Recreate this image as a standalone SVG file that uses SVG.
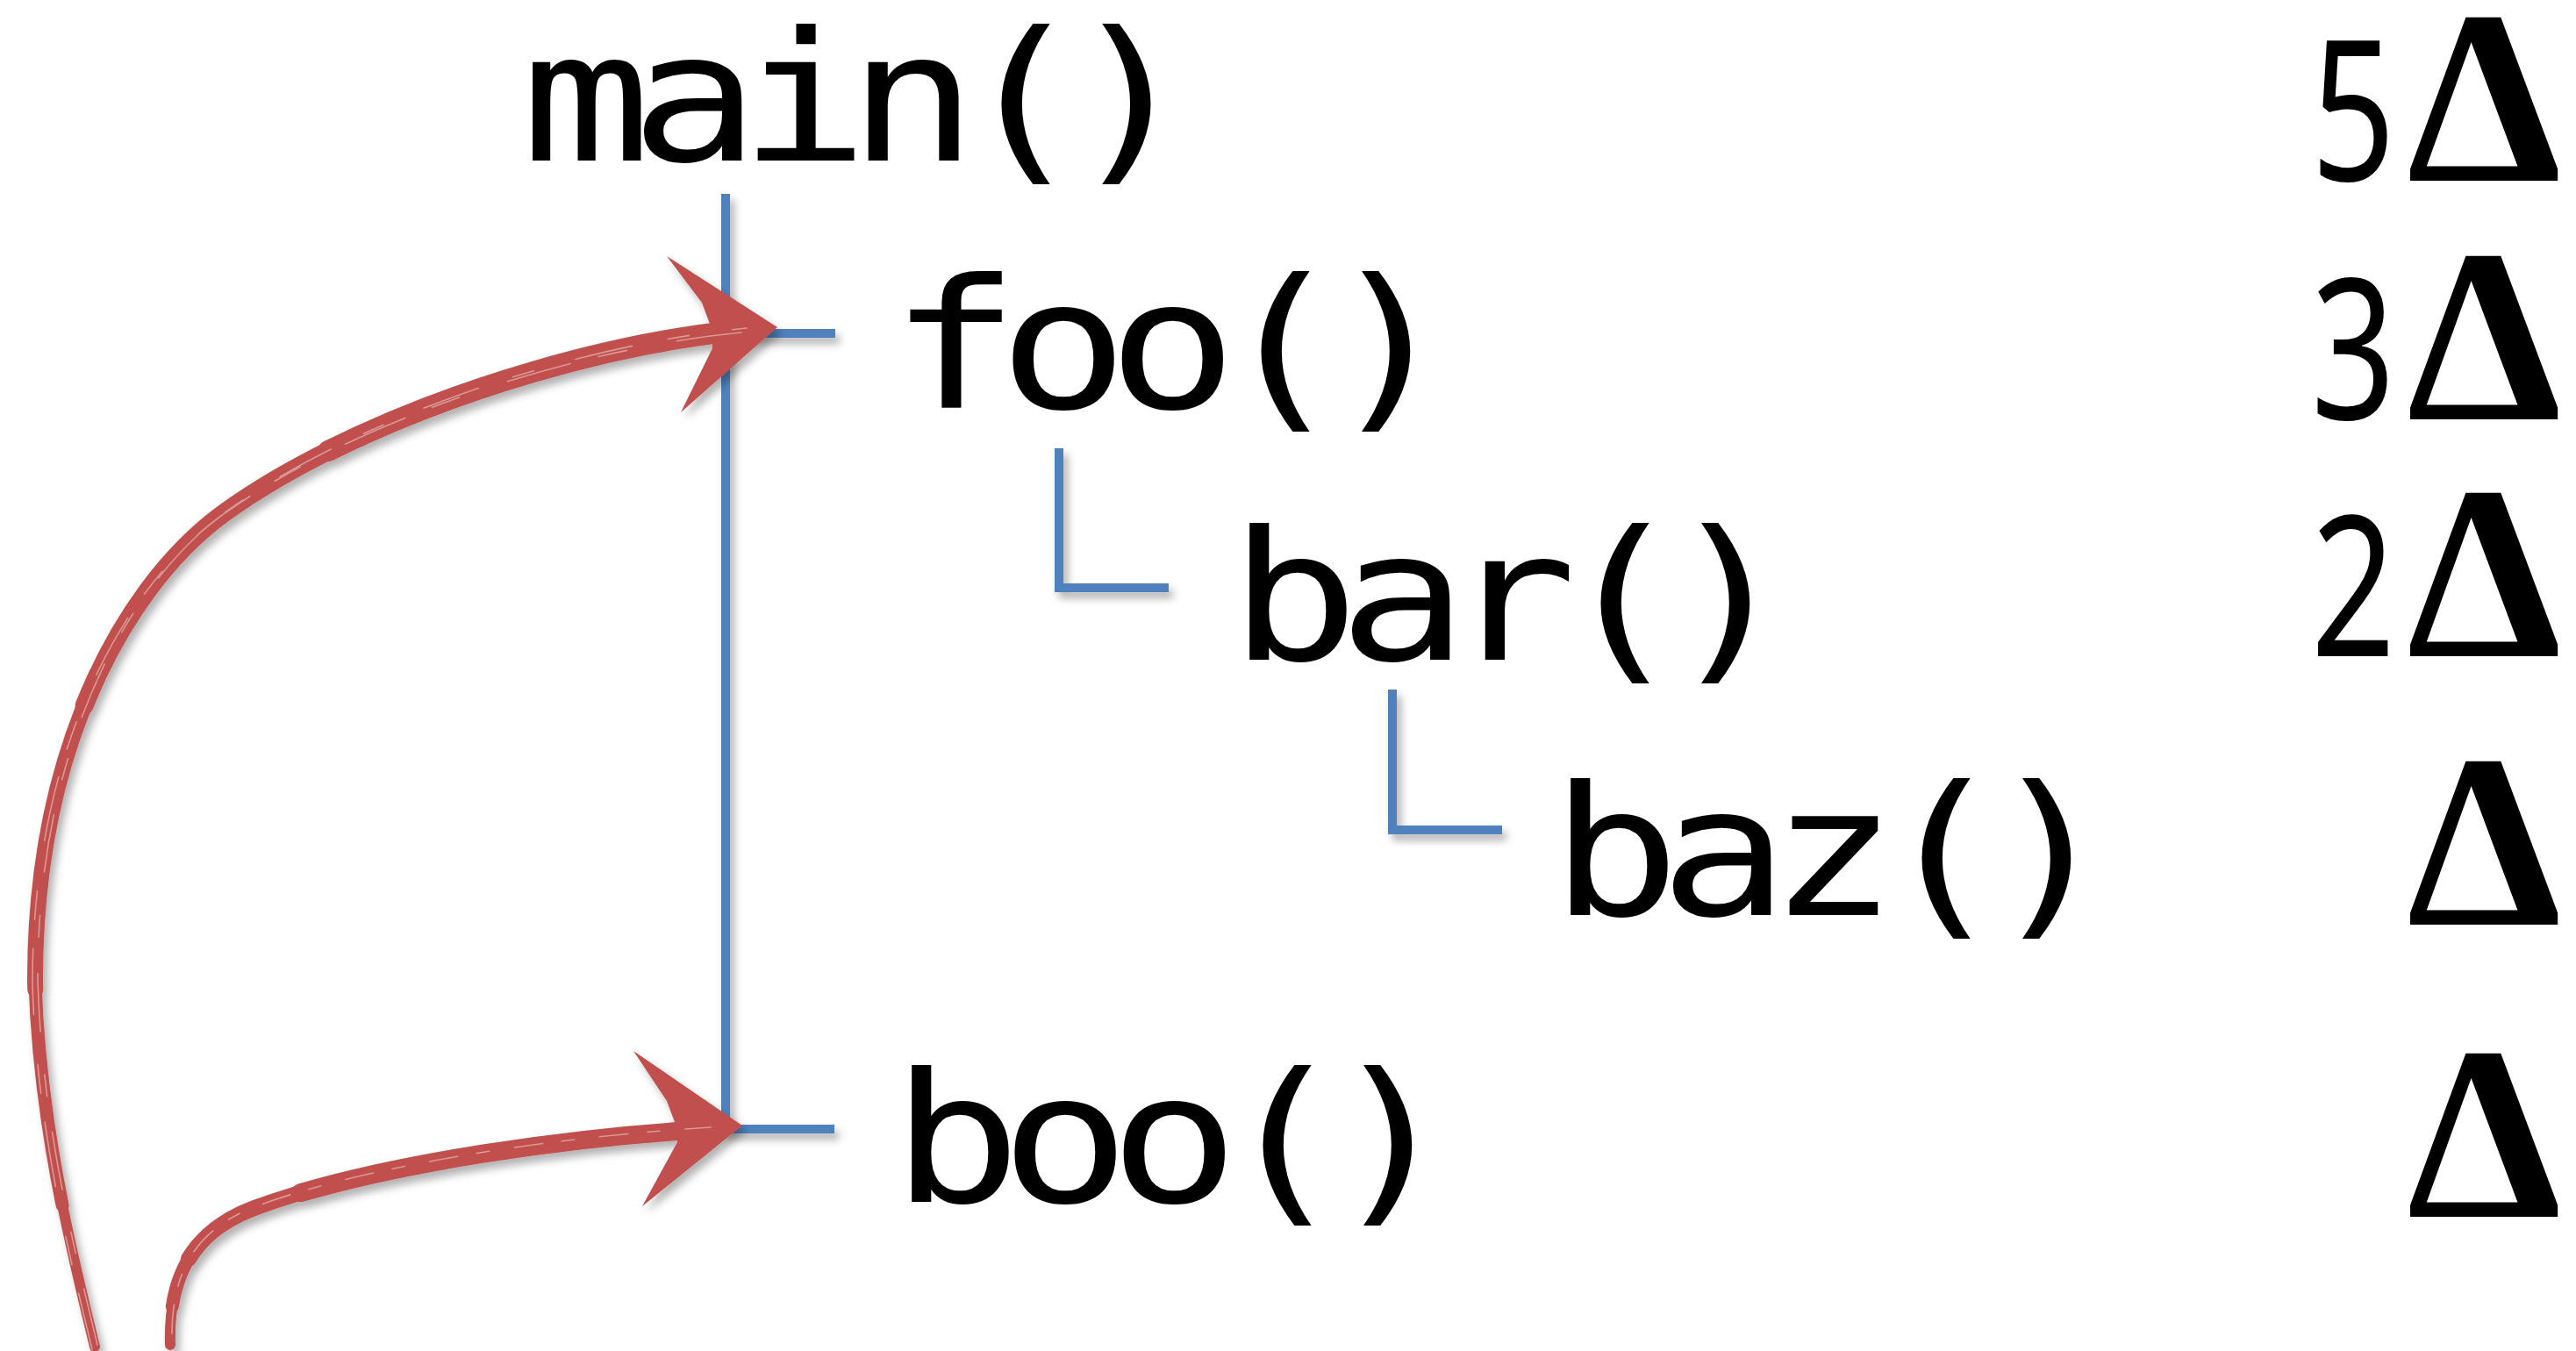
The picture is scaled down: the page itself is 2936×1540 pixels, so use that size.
<svg xmlns="http://www.w3.org/2000/svg" xmlns:xlink="http://www.w3.org/1999/xlink" width="2936" height="1540" viewBox="0 0 2936 1540">
<defs>
<filter id="sh" filterUnits="userSpaceOnUse" x="0" y="0" width="2936" height="1540">
<feDropShadow dx="5" dy="7" stdDeviation="5" flood-color="#000" flood-opacity="0.3"/>
</filter>
<path id="a1" pathLength="1000" d="M108,1535 C80,1420 45,1280 40,1120 C39,850 145,665 255,585 C400,480 650,395 848,376"/>
<path id="a2" pathLength="1000" d="M194,1533 C192,1460 215,1405 290,1377 C400,1336 600,1300 808,1287"/>
<style>
.code{font-family:"DejaVu Sans Mono",monospace;font-size:205px;fill:#000;letter-spacing:-20px}
.num{font-family:"Noto Sans","Open Sans",sans-serif;font-size:224px;fill:#000}
.delta{font-family:"Liberation Serif",serif;font-size:282px;font-weight:bold;fill:#000}
.tree{stroke:#4F81BD;stroke-width:10;fill:none;stroke-linecap:butt}
.brush{stroke:#C0504D;fill:none;stroke-linecap:round;stroke-linejoin:round}
.part{stroke-dasharray:1000 1000}
.streak{stroke:#DA9996;fill:none;stroke-width:1.6;stroke-linecap:round}
.head{fill:#C0504D}
</style>
</defs>
<rect width="2936" height="1540" fill="#fff"/>
<g id="connectors">
<g filter="url(#sh)">
<path class="tree" d="M827,221 V1292 M822,380 H952 M822,1287 H951"/>
<path class="tree" d="M1207,511 V670 H1332"/>
<path class="tree" d="M1587,786 V946 H1712"/>
</g>
<g id="arrow-foo" filter="url(#sh)">
<use xlink:href="#a1" href="#a1" class="brush" stroke-width="12"/>
<use xlink:href="#a1" href="#a1" class="brush part" stroke-width="15" stroke-dashoffset="1900"/>
<use xlink:href="#a1" href="#a1" class="brush part" stroke-width="18" stroke-dashoffset="1750"/>
<use xlink:href="#a1" href="#a1" class="brush part" stroke-width="21" stroke-dashoffset="1550"/>
<use xlink:href="#a1" href="#a1" class="brush part" stroke-width="24" stroke-dashoffset="1300"/>
<polygon class="head" points="760,292 886,373 776,470 812,397 812,377 800,345"/>
</g>
<g id="arrow-boo" filter="url(#sh)">
<use xlink:href="#a2" href="#a2" class="brush" stroke-width="12"/>
<use xlink:href="#a2" href="#a2" class="brush part" stroke-width="15" stroke-dashoffset="1940"/>
<use xlink:href="#a2" href="#a2" class="brush part" stroke-width="18" stroke-dashoffset="1860"/>
<use xlink:href="#a2" href="#a2" class="brush part" stroke-width="21" stroke-dashoffset="1650"/>
<polygon class="head" points="722,1198 846,1283 732,1375 772,1302 772,1287 760,1255"/>
</g>
<use xlink:href="#a1" href="#a1" class="streak" stroke-dasharray="40 25 15 30" transform="translate(3,-2)"/>
<use xlink:href="#a1" href="#a1" class="streak" stroke-dasharray="20 35 45 20" stroke-dashoffset="-300" transform="translate(-3,3)"/>
<use xlink:href="#a2" href="#a2" class="streak" stroke-dasharray="45 30 20 40" stroke-dashoffset="-150" transform="translate(2,-2)"/>
</g>
<g id="node-main"><text class="code" transform="translate(594,183) scale(1.2,1)">main()</text></g>
<g id="node-foo"><text class="code" transform="translate(1014,465) scale(1.2,1)">foo()</text></g>
<g id="node-bar"><text class="code" transform="translate(1401,752) scale(1.2,1)">bar()</text></g>
<g id="node-baz"><text class="code" transform="translate(1767,1043) scale(1.2,1)">baz()</text></g>
<g id="node-boo"><text class="code" transform="translate(1016,1370) scale(1.2,1)">boo()</text></g>
<g id="cost-main"><text class="num" transform="translate(2634,206) scale(0.75,1)">5</text><text class="delta" x="2920" y="206" text-anchor="end">Δ</text></g>
<g id="cost-foo"><text class="num" transform="translate(2634,478) scale(0.75,1)">3</text><text class="delta" x="2920" y="478" text-anchor="end">Δ</text></g>
<g id="cost-bar"><text class="num" transform="translate(2634,748) scale(0.75,1)">2</text><text class="delta" x="2920" y="748" text-anchor="end">Δ</text></g>
<g id="cost-baz"><text class="delta" x="2920" y="1054" text-anchor="end">Δ</text></g>
<g id="cost-boo"><text class="delta" x="2920" y="1387" text-anchor="end">Δ</text></g>
</svg>
